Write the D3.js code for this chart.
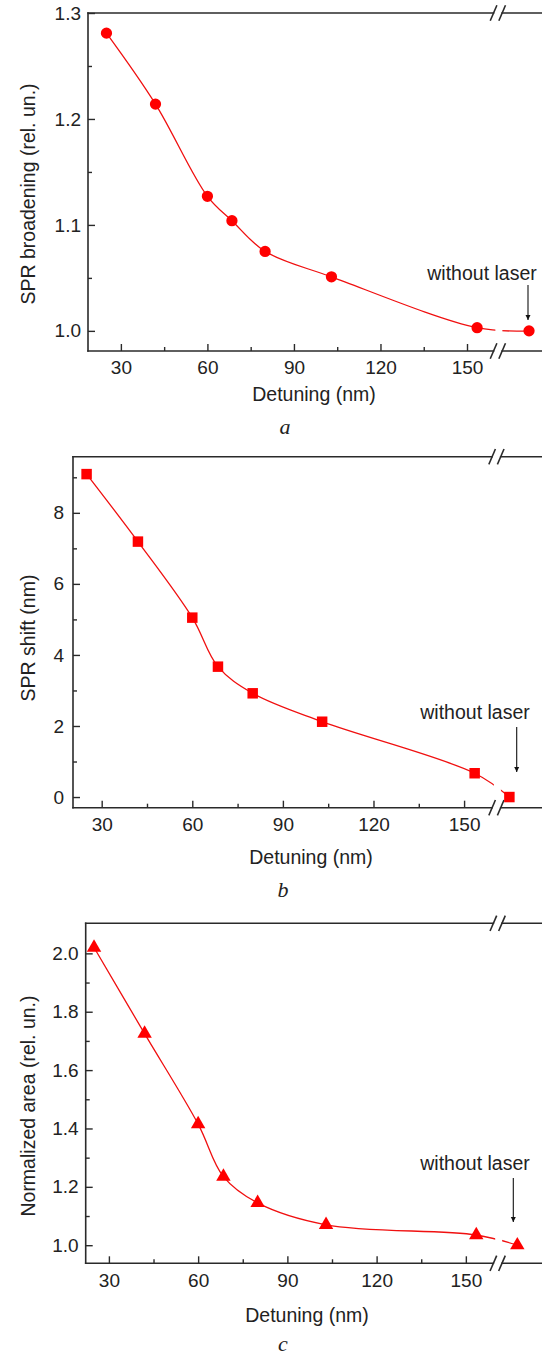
<!DOCTYPE html>
<html>
<head>
<meta charset="utf-8">
<script src="https://cdn.jsdelivr.net/npm/d3@7"></script>
<style>
  body { margin: 0; background: #fff; }
  text { font-family: "Liberation Sans", Arial, sans-serif; fill: #222; }
</style>
</head>
<body>
<div id="chart"></div>
<script>
var W = 542, H = 1356;

// detuning of the laser (nm), same for the three panels
var detuning = [25, 42, 60, 68.5, 80, 103, 153.5];
var broadening = [1.281, 1.214, 1.127, 1.104, 1.075, 1.051, 1.003];
var shift = [9.09, 7.19, 5.05, 3.67, 2.92, 2.12, 0.67];
var area = [2.02, 1.725, 1.415, 1.235, 1.145, 1.07, 1.035];

// "without laser" points, drawn after the axis break
var refX = [171.5, 165, 167.3];
var refY = [1.0, 0, 1.0];

var xMajor = [30, 60, 90, 120, 150];
var xMinor = [45, 75, 105, 135];
var breakAt = 160.7;

var yMajorA = [1.0, 1.1, 1.2, 1.3], yMinorA = [1.05, 1.15, 1.25];
var yMajorB = [0, 2, 4, 6, 8], yMinorB = [1, 3, 5, 7, 9];
var yMajorC = [1.0, 1.2, 1.4, 1.6, 1.8, 2.0], yMinorC = [1.1, 1.3, 1.5, 1.7, 1.9];

var yTitles = ["SPR broadening (rel. un.)", "SPR shift (nm)", "Normalized area (rel. un.)"];
var letters = ["a", "b", "c"];

var panels = [
  { ys: broadening, symbol: d3.symbolCircle, size: 100, left: 88, top: 13, bottom: 351,
    xDom: [18.6, 176], yDom: [0.981, 1.3], yMajor: yMajorA, yMinor: yMinorA, fmt: d3.format(".1f"), pad: 7,
    yTitle: [28, 194], xTitle: [314, 394], letter: [285, 426], note: [482, 273], arrow: [528, 285, 320] },
  { ys: shift, symbol: d3.symbolSquare, size: 110, left: 73, top: 456.7, bottom: 807.7,
    xDom: [20.5, 175.8], yDom: [-0.3, 9.58], yMajor: yMajorB, yMinor: yMinorB, fmt: d3.format("d"), pad: 9,
    yTitle: [28, 638], xTitle: [311, 857], letter: [283, 889], note: [475, 712], arrow: [516.7, 727, 772] },
  { ys: area, symbol: d3.symbolTriangle, size: 90, left: 85.7, top: 923.3, bottom: 1263.3,
    xDom: [22.2, 175.6], yDom: [0.938, 2.103], yMajor: yMajorC, yMinor: yMinorC, fmt: d3.format(".1f"), pad: 7,
    yTitle: [28, 1106], xTitle: [307, 1315], letter: [283, 1343], note: [475, 1163], arrow: [513.3, 1178, 1222] }
];

var svg = d3.select("#chart").append("svg").attr("width", W).attr("height", H);

var defs = svg.append("defs");
defs.append("marker").attr("id", "head").attr("viewBox", "0 0 10 10")
  .attr("refX", 10).attr("refY", 5).attr("markerWidth", 5).attr("markerHeight", 9)
  .attr("markerUnits", "userSpaceOnUse").attr("orient", "auto")
  .append("path").attr("d", "M0,0L10,5L0,10Z").attr("fill", "#111");

var axisColor = "#2a2a2a";

panels.forEach(function(p, i) {
  var x = d3.scaleLinear().domain(p.xDom).range([p.left, W]);
  var y = d3.scaleLinear().domain(p.yDom).range([p.bottom, p.top]);
  var bx = x(breakAt);
  var g = svg.append("g");

  // ticks (inside) and labels
  g.append("g").attr("transform", "translate(0," + p.bottom + ")")
    .call(d3.axisBottom(x).tickValues(xMajor).tickSizeInner(-7).tickSizeOuter(0).tickPadding(10));
  g.append("g").attr("transform", "translate(0," + p.bottom + ")")
    .call(d3.axisBottom(x).tickValues(xMinor).tickSizeInner(-4).tickSizeOuter(0).tickFormat(""));
  g.append("g").attr("transform", "translate(" + p.left + ",0)")
    .call(d3.axisLeft(y).tickValues(p.yMajor).tickFormat(p.fmt).tickSizeInner(-7).tickSizeOuter(0).tickPadding(p.pad));
  g.append("g").attr("transform", "translate(" + p.left + ",0)")
    .call(d3.axisLeft(y).tickValues(p.yMinor).tickSizeInner(-4).tickSizeOuter(0).tickFormat(""));
  g.selectAll(".domain").remove();
  g.selectAll(".tick line").attr("stroke", axisColor).attr("stroke-width", 1.4);
  g.selectAll(".tick text").attr("font-family", "Liberation Sans, Arial, sans-serif")
    .attr("font-size", 19).attr("fill", "#222");

  // frame with the axis break
  var gap = 4.3;
  var frame = [
    [p.left, p.top, p.left, p.bottom],
    [p.left, p.top, bx - gap, p.top], [bx + gap, p.top, W, p.top],
    [p.left, p.bottom, bx - gap, p.bottom], [bx + gap, p.bottom, W, p.bottom]
  ];
  [p.top, p.bottom].forEach(function(yy) {
    [-gap, gap].forEach(function(o) {
      frame.push([bx + o - 3, yy + 7, bx + o + 3, yy - 7]);
    });
  });
  g.selectAll(".frame").data(frame).enter().append("line")
    .attr("x1", function(d) { return d[0]; }).attr("y1", function(d) { return d[1]; })
    .attr("x2", function(d) { return d[2]; }).attr("y2", function(d) { return d[3]; })
    .attr("stroke", axisColor).attr("stroke-width", 1.6).attr("stroke-linecap", "square");

  // data
  var pts = detuning.map(function(d, j) { return [d, p.ys[j]]; });
  pts.push([refX[i], refY[i]]);

  var clip = defs.append("clipPath").attr("id", "clip" + i);
  clip.append("rect").attr("x", p.left).attr("y", p.top).attr("width", bx - 2.5 - p.left).attr("height", p.bottom - p.top);
  clip.append("rect").attr("x", bx + 4.5).attr("y", p.top).attr("width", W - bx).attr("height", p.bottom - p.top);

  var line = d3.line().x(function(d) { return x(d[0]); }).y(function(d) { return y(d[1]); })
    .curve(d3.curveCatmullRom.alpha(0.5));
  g.append("path").datum(pts).attr("d", line).attr("fill", "none")
    .attr("stroke", "#f01010").attr("stroke-width", 1.3).attr("clip-path", "url(#clip" + i + ")");

  g.selectAll(".pt").data(pts).enter().append("path")
    .attr("d", d3.symbol().type(p.symbol).size(p.size))
    .attr("transform", function(d) { return "translate(" + x(d[0]) + "," + y(d[1]) + ")"; })
    .attr("fill", "#ff0000");

  // annotation
  g.append("text").attr("x", p.note[0]).attr("y", p.note[1]).attr("text-anchor", "middle")
    .attr("dominant-baseline", "central").attr("font-size", 19.5).text("without laser");
  g.append("line").attr("x1", p.arrow[0]).attr("x2", p.arrow[0]).attr("y1", p.arrow[1]).attr("y2", p.arrow[2])
    .attr("stroke", "#111").attr("stroke-width", 1.1).attr("marker-end", "url(#head)");

  // titles
  g.append("text").attr("transform", "translate(" + p.yTitle[0] + "," + p.yTitle[1] + ") rotate(-90)")
    .attr("text-anchor", "middle").attr("dominant-baseline", "central").attr("font-size", 19.5).text(yTitles[i]);
  g.append("text").attr("x", p.xTitle[0]).attr("y", p.xTitle[1]).attr("text-anchor", "middle")
    .attr("dominant-baseline", "central").attr("font-size", 19.5).text("Detuning (nm)");
  g.append("text").attr("x", p.letter[0]).attr("y", p.letter[1]).attr("text-anchor", "middle")
    .attr("dominant-baseline", "central").attr("font-size", 22).attr("font-style", "italic")
    .style("font-family", "'Liberation Serif', 'Times New Roman', serif").text(letters[i]);
});
</script>
</body>
</html>
